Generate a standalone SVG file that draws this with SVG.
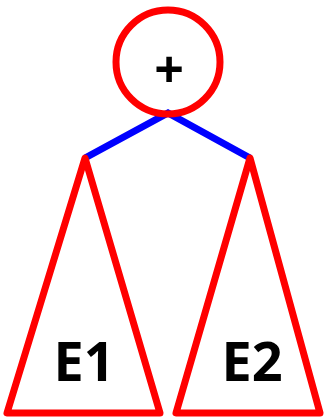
<svg xmlns="http://www.w3.org/2000/svg" width="325" height="419" viewBox="0 0 325 419">
<style>
.red{fill:none;stroke:#ff0000;stroke-width:7;stroke-linejoin:round}
.edge{stroke:#0000ff;stroke-width:7;fill:none}
.lbl{font-family:"Open Sans","Liberation Sans",sans-serif;font-weight:bold;fill:#000;text-anchor:middle}
</style>
<rect width="325" height="419" fill="#fff"/>
<g id="connectors">
<polyline class="edge" points="85,158 168,113 250,158"/>
</g>
<g id="root">
<circle class="red" cx="168" cy="62" r="52"/>
<text class="lbl" x="169" y="88" font-size="52">+</text>
</g>
<g id="E1">
<polygon class="red" points="85,158 7,413 160,413"/>
<text class="lbl" x="84" y="381" font-size="54">E1</text>
</g>
<g id="E2">
<polygon class="red" points="250,158 176,413 320,413"/>
<text class="lbl" x="252" y="381" font-size="54">E2</text>
</g>
</svg>
